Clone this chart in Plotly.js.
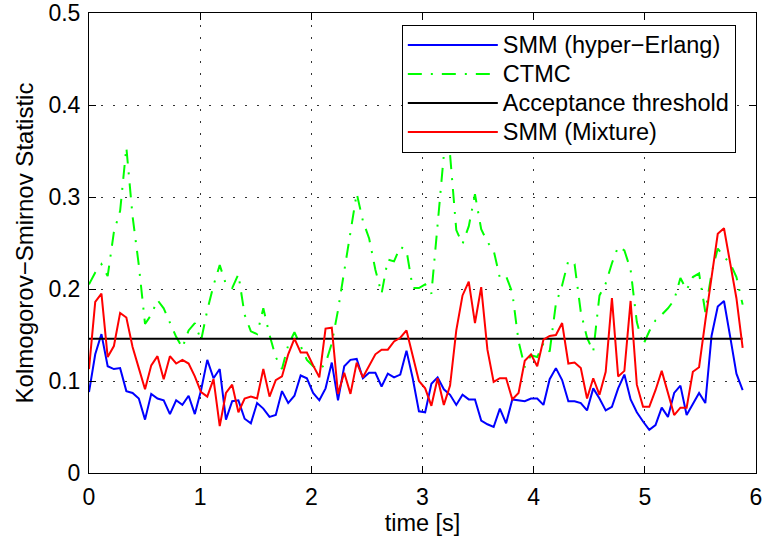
<!DOCTYPE html>
<html>
<head>
<meta charset="utf-8">
<script src="https://cdn.plot.ly/plotly-3.0.1.min.js"></script>
<style>html,body{margin:0;padding:0;background:#fff;}#chart{width:767px;height:541px;}</style>
</head>
<body>
<div id="chart"></div>
<script>
const timeS = [
  0, 0.056, 0.112, 0.168, 0.224, 0.28, 0.336, 0.392, 0.448, 0.504,
  0.56, 0.616, 0.672, 0.728, 0.784, 0.84, 0.896, 0.952, 1.008, 1.064,
  1.12, 1.176, 1.232, 1.288, 1.344, 1.4, 1.456, 1.512, 1.568, 1.624,
  1.68, 1.736, 1.792, 1.848, 1.904, 1.96, 2.016, 2.072, 2.128, 2.184,
  2.24, 2.296, 2.352, 2.408, 2.464, 2.52, 2.576, 2.632, 2.688, 2.744,
  2.8, 2.856, 2.912, 2.968, 3.024, 3.08, 3.136, 3.192, 3.248, 3.304,
  3.36, 3.416, 3.472, 3.528, 3.584, 3.64, 3.696, 3.752, 3.808, 3.864,
  3.92, 3.976, 4.032, 4.088, 4.144, 4.2, 4.256, 4.312, 4.368, 4.424,
  4.48, 4.536, 4.592, 4.648, 4.704, 4.76, 4.816, 4.872, 4.928, 4.984,
  5.04, 5.096, 5.152, 5.208, 5.264, 5.32, 5.376, 5.432, 5.488, 5.544,
  5.6, 5.656, 5.712, 5.768, 5.824, 5.88
];

const smmHyperErlang = [
  0.088, 0.129, 0.151, 0.116, 0.113, 0.114, 0.089, 0.087, 0.081, 0.058,
  0.086, 0.081, 0.079, 0.064, 0.079, 0.074, 0.084, 0.064, 0.090, 0.123,
  0.103, 0.113, 0.058, 0.078, 0.079, 0.059, 0.054, 0.076, 0.070, 0.061,
  0.063, 0.089, 0.076, 0.084, 0.106, 0.103, 0.087, 0.079, 0.092, 0.120,
  0.079, 0.116, 0.123, 0.124, 0.103, 0.109, 0.109, 0.094, 0.108, 0.104,
  0.107, 0.133, 0.103, 0.067, 0.066, 0.097, 0.104, 0.091, 0.085, 0.074,
  0.085, 0.080, 0.080, 0.057, 0.053, 0.050, 0.070, 0.054, 0.080, 0.079,
  0.078, 0.081, 0.081, 0.074, 0.102, 0.114, 0.101, 0.078, 0.078, 0.076,
  0.068, 0.092, 0.081, 0.068, 0.072, 0.092, 0.107, 0.080, 0.066, 0.056,
  0.047, 0.052, 0.071, 0.061, 0.087, 0.095, 0.063, 0.075, 0.087, 0.076,
  0.149, 0.181, 0.187, 0.148, 0.108, 0.090
];

const ctmc = [
  0.205, 0.218, 0.227, 0.214, 0.262, 0.285, 0.354, 0.279, 0.226, 0.162,
  0.172, 0.188, 0.179, 0.163, 0.148, 0.136, 0.155, 0.163, 0.144, 0.177,
  0.204, 0.226, 0.205, 0.201, 0.216, 0.172, 0.154, 0.151, 0.179, 0.150,
  0.126, 0.113, 0.139, 0.153, 0.137, 0.123, 0.116, 0.112, 0.119, 0.141,
  0.177, 0.221, 0.264, 0.304, 0.274, 0.255, 0.221, 0.195, 0.232, 0.230,
  0.246, 0.242, 0.201, 0.201, 0.205, 0.195, 0.270, 0.346, 0.346, 0.264,
  0.249, 0.268, 0.303, 0.265, 0.251, 0.242, 0.212, 0.214, 0.196, 0.143,
  0.115, 0.128, 0.126, 0.141, 0.132, 0.184, 0.204, 0.231, 0.227, 0.175,
  0.147, 0.132, 0.193, 0.206, 0.228, 0.246, 0.242, 0.221, 0.164, 0.139,
  0.154, 0.166, 0.172, 0.179, 0.188, 0.212, 0.199, 0.213, 0.217, 0.175,
  0.217, 0.244, 0.235, 0.228, 0.213, 0.183
];

const acceptanceThreshold = 0.146;

const smmMixture = [
  0.113, 0.186, 0.195, 0.126, 0.138, 0.174, 0.169, 0.137, 0.114, 0.091,
  0.117, 0.127, 0.102, 0.127, 0.119, 0.123, 0.119, 0.105, 0.088, 0.083,
  0.102, 0.051, 0.087, 0.096, 0.066, 0.081, 0.083, 0.081, 0.113, 0.083,
  0.101, 0.105, 0.129, 0.146, 0.131, 0.131, 0.117, 0.104, 0.157, 0.158,
  0.086, 0.109, 0.086, 0.120, 0.104, 0.117, 0.129, 0.134, 0.134, 0.143,
  0.147, 0.155, 0.126, 0.100, 0.092, 0.073, 0.103, 0.074, 0.095, 0.155,
  0.193, 0.208, 0.163, 0.202, 0.134, 0.099, 0.103, 0.103, 0.080, 0.087,
  0.122, 0.129, 0.116, 0.145, 0.149, 0.150, 0.163, 0.119, 0.120, 0.114,
  0.081, 0.103, 0.085, 0.110, 0.190, 0.105, 0.111, 0.187, 0.096, 0.072,
  0.072, 0.090, 0.111, 0.088, 0.063, 0.071, 0.071, 0.110, 0.115, 0.165,
  0.215, 0.260, 0.266, 0.228, 0.190, 0.136
];

const seriesNames = ['SMM (hyper\u2212Erlang)', 'CTMC', 'Acceptance threshold', 'SMM (Mixture)'];
const xTicks = [0, 1, 2, 3, 4, 5, 6];
const yTicks = [0, 0.1, 0.2, 0.3, 0.4, 0.5];

const FONT = 'Liberation Sans, Arial, Helvetica, sans-serif';
const legendLabel = (s) => '<span style="font-size:23.5px">' + s + '</span>';

const traces = [
  { x: timeS, y: smmHyperErlang, name: legendLabel(seriesNames[0]), mode: 'lines',
    line: { color: '#0000ff', width: 2 } },
  { x: timeS, y: ctmc, name: legendLabel(seriesNames[1]), mode: 'lines',
    line: { color: '#00ff00', width: 2, dash: '14px,9px,2px,9px' } },
  { x: [timeS[0], timeS[timeS.length - 1]], y: [acceptanceThreshold, acceptanceThreshold],
    name: legendLabel(seriesNames[2]), mode: 'lines', line: { color: '#000000', width: 2 } },
  { x: timeS, y: smmMixture, name: legendLabel(seriesNames[3]), mode: 'lines',
    line: { color: '#ff0000', width: 2 } }
];

const axisCommon = {
  showgrid: true, gridcolor: '#333333', gridwidth: 1, griddash: '2px,10px',
  showline: true, linecolor: '#000000', linewidth: 1, mirror: 'ticks',
  ticks: 'inside', ticklen: 7, tickcolor: '#000000', tickwidth: 1,
  zeroline: false, tickfont: { family: FONT, size: 23, color: '#000000' }
};

const layout = {
  width: 767, height: 541,
  margin: { l: 89, r: 11, t: 13, b: 68 },
  paper_bgcolor: '#ffffff', plot_bgcolor: '#ffffff',
  font: { family: FONT, color: '#000000' },
  showlegend: true,
  xaxis: Object.assign({}, axisCommon, {
    range: [0, 6], tickvals: xTicks, ticktext: xTicks.map(String),
    ticklabelstandoff: 3,
    title: { text: 'time [s]', font: { family: FONT, size: 23.5, color: '#000' }, standoff: 2 }
  }),
  yaxis: Object.assign({}, axisCommon, {
    range: [0, 0.5], tickvals: yTicks, ticktext: yTicks.map(String),
    ticklabelstandoff: 3,
    title: { text: 'Kolmogorov\u2212Smirnov Statistic', font: { family: FONT, size: 24, color: '#000' }, standoff: 8 }
  }),
  legend: {
    x: 0.469, xanchor: 'left', y: 0.975, yanchor: 'top',
    bgcolor: '#ffffff', bordercolor: '#000000', borderwidth: 1,
    font: { family: FONT, size: 20, color: '#000000' },
    itemwidth: 90, tracegroupgap: 0
  }
};

Plotly.newPlot('chart', traces, layout, { staticPlot: true, displayModeBar: false });
</script>
</body>
</html>
